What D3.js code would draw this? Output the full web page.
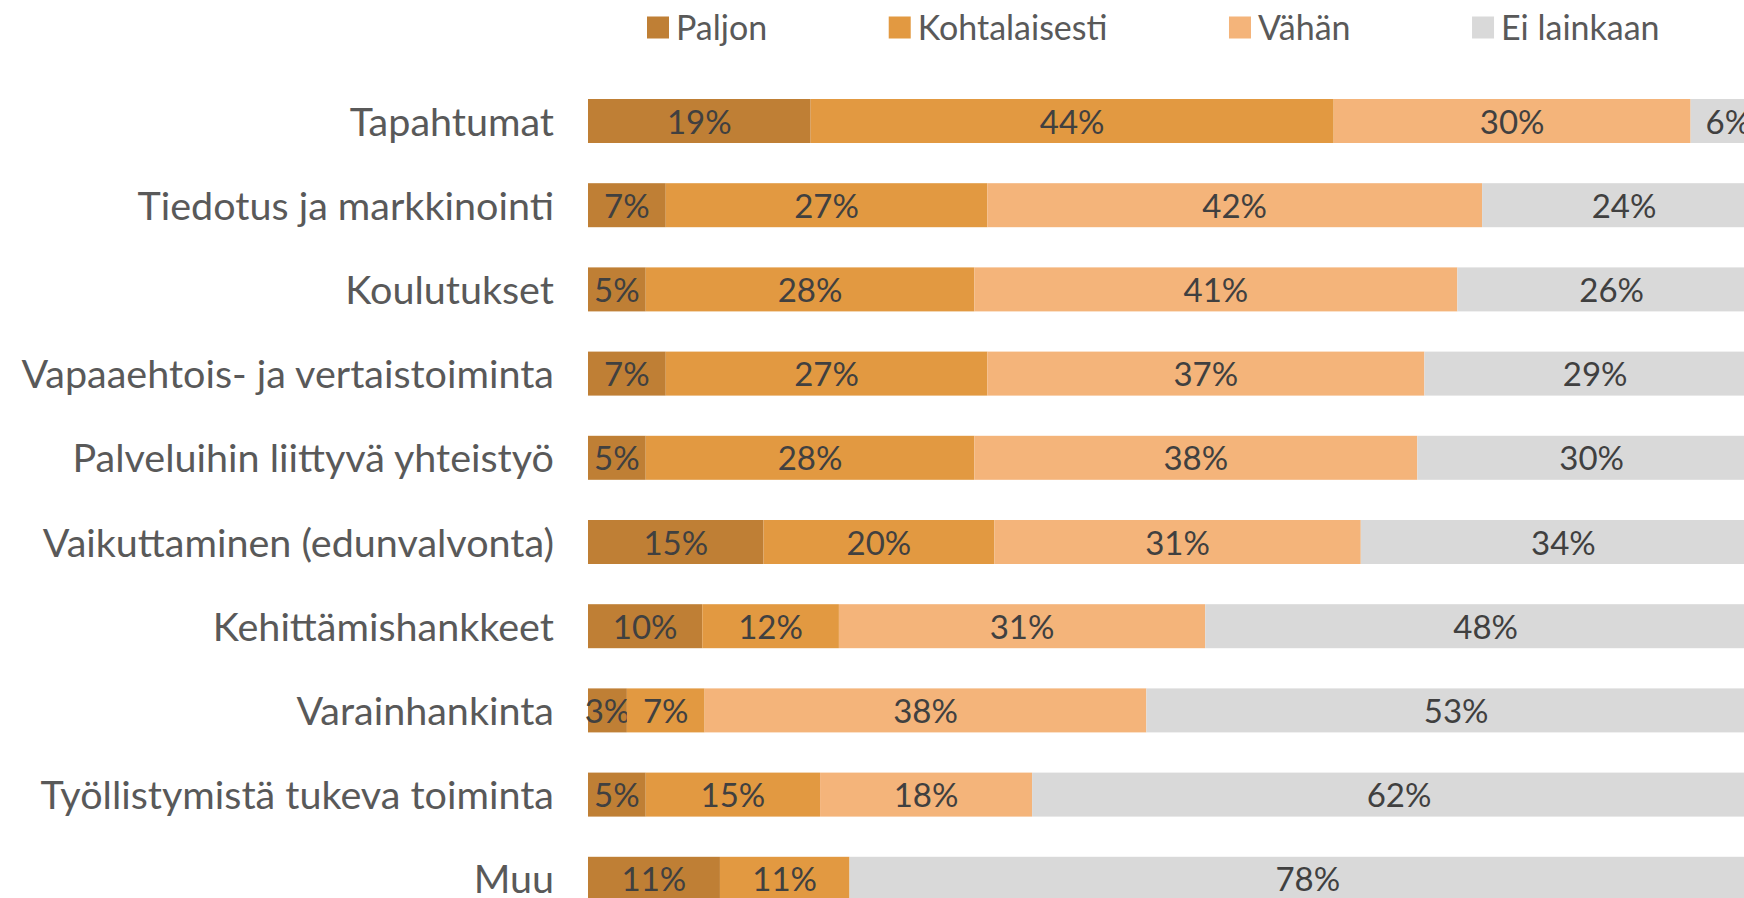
<!DOCTYPE html>
<html>
<head>
<meta charset="utf-8">
<script src="https://cdn.jsdelivr.net/npm/d3@7"></script>
<style>
  html, body { margin: 0; padding: 0; background: #fff; }
  svg { display: block; font-family: Lato, "Open Sans", sans-serif; }
</style>
</head>
<body>
<svg id="chart" width="1744" height="898"></svg>
<script>
let categories = [
  'Tapahtumat',
  'Tiedotus ja markkinointi',
  'Koulutukset',
  'Vapaaehtois- ja vertaistoiminta',
  'Palveluihin liittyvä yhteistyö',
  'Vaikuttaminen (edunvalvonta)',
  'Kehittämishankkeet',
  'Varainhankinta',
  'Työllistymistä tukeva toiminta',
  'Muu'
];

let seriesNames = ['Paljon', 'Kohtalaisesti', 'Vähän', 'Ei lainkaan'];

// percentages
let paljon        = [18.9, 6.6, 4.9, 6.6, 4.9, 14.9, 9.7, 3.3, 4.9, 11.2];
let kohtalaisesti = [44.4, 27.3, 27.9, 27.3, 27.9, 19.6, 11.6, 6.6, 14.8, 11.0];
let vahan         = [30.3, 42.0, 41.0, 37.1, 37.6, 31.1, 31.1, 37.5, 18.0, 0];
let eiLainkaan    = [6.4, 24.1, 26.2, 29.0, 29.6, 34.4, 47.6, 52.6, 62.3, 77.8];

let colors = ['#bf7f35', '#e29941', '#f4b47a', '#d9d9d9'];

let table = categories.map((c, i) => ({
  name: c,
  'Paljon': paljon[i],
  'Kohtalaisesti': kohtalaisesti[i],
  'Vähän': vahan[i],
  'Ei lainkaan': eiLainkaan[i]
}));

let svg = d3.select('#chart');

let x = d3.scaleLinear()
  .domain([0, 100])
  .range([588, 1766]);

let y = d3.scaleBand()
  .domain(categories)
  .range([78.9, 920.9])
  .paddingInner(0.4774)
  .paddingOuter(0.2387);

let color = d3.scaleOrdinal()
  .domain(seriesNames)
  .range(colors);

let stacked = d3.stack().keys(seriesNames)(table);

let fmt = d3.format('.0f');

let layers = svg.append('g')
  .selectAll('g').data(stacked).enter().append('g')
  .attr('fill', d => color(d.key));

layers.selectAll('rect').data(d => d).enter().append('rect')
  .attr('x', d => x(d[0]))
  .attr('y', d => y(d.data.name))
  .attr('width', d => x(d[1]) - x(d[0]))
  .attr('height', y.bandwidth());

layers.selectAll('text').data(d => d.filter(p => p[1] - p[0] > 0)).enter().append('text')
  .attr('x', d => (x(d[0]) + x(d[1])) / 2)
  .attr('y', d => y(d.data.name) + y.bandwidth() / 2)
  .attr('dy', 12.5)
  .attr('text-anchor', 'middle')
  .attr('fill', '#404040')
  .style('font-size', '33px')
  .text(d => fmt(d[1] - d[0]) + '%');

// category labels
let yAxis = d3.axisLeft(y).tickSize(0).tickPadding(34);

svg.append('g')
  .attr('transform', `translate(${x(0)},0)`)
  .call(yAxis)
  .call(g => g.select('.domain').remove())
  .selectAll('text')
  .attr('dy', 14.5)
  .attr('fill', '#595959')
  .style('font-family', 'Lato, "Open Sans", sans-serif')
  .style('font-size', '39.5px');

// legend
let legend = svg.append('g');
let lx = 647;
seriesNames.forEach((s, i) => {
  let item = legend.append('g').attr('transform', `translate(${lx},0)`);
  item.append('rect')
    .attr('x', 0)
    .attr('y', 16.5)
    .attr('width', 22)
    .attr('height', 22)
    .attr('fill', color(s));
  let t = item.append('text')
    .attr('x', 29)
    .attr('y', 39.5)
    .attr('fill', '#595959')
    .style('font-size', '34px')
    .text(s);
  lx += 29 + t.node().getComputedTextLength() + 121.5;
});
</script>
</body>
</html>
